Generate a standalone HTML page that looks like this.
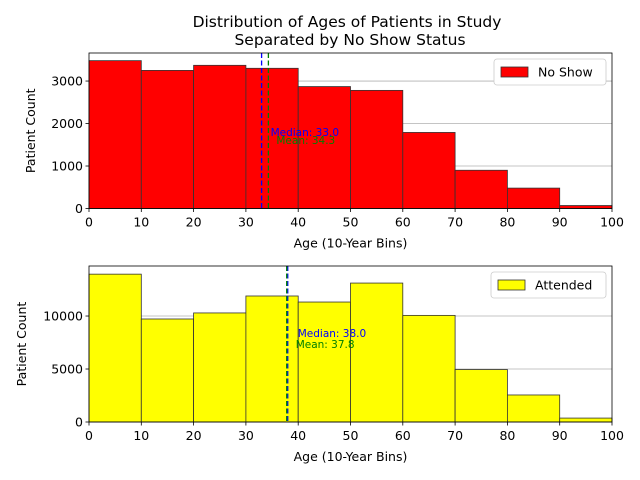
<!DOCTYPE html>
<html><head><meta charset="utf-8"><style>
body{margin:0;background:#fff}
svg{display:block;font-family:"DejaVu Sans","Liberation Sans",sans-serif}
</style></head><body>
<svg id="c" width="640" height="480" xmlns="http://www.w3.org/2000/svg">
<text x="347" y="27" font-size="15.5" text-anchor="middle">Distribution of Ages of Patients in Study</text>
<text x="350" y="45" font-size="15.5" text-anchor="middle">Separated by No Show Status</text>
</svg>
<script>
const binEdges=[0,10,20,30,40,50,60,70,80,90,100];
const noShowCounts=[3480,3250,3370,3300,2870,2780,1790,900,480,70];
const attendedCounts=[13950,9720,10290,11890,11320,13110,10060,4950,2550,370];
const noShowTicks=[0,1000,2000,3000];
const attendedTicks=[0,5000,10000];
const xTicks=[0,10,20,30,40,50,60,70,80,90,100];
const noShowStats={median:33.0,mean:34.3};
const attendedStats={median:38.0,mean:37.8};
const svg=document.getElementById('c');
const NS='http://www.w3.org/2000/svg';
function mk(t,a,p){const e=document.createElementNS(NS,t);for(const k in a)e.setAttribute(k,a[k]);(p||svg).appendChild(e);return e;}
function panel(o){
  const g=mk('g',{});
  
  
  const L=89,R=612,T=o.top,B=o.bottom;
  const xs=v=>L+(v-0)/(100-0)*(R-L);
  const ys=v=>B-v/o.ymax*(B-T);
  o.ticks.forEach(t=>{
    if(t>0){const gl=mk('line',{x1:L,x2:R,y1:ys(t),y2:ys(t),stroke:'#b0b0b0','stroke-width':0.8},g);
    }
    mk('line',{x1:L-3.5,x2:L,y1:ys(t),y2:ys(t),stroke:'#000','stroke-width':0.8},g);
    const tx=mk('text',{x:L-6,y:ys(t)+4.5,'font-size':12.5,'text-anchor':'end'},g);tx.textContent=t;
    
  });
  o.counts.forEach((c,i)=>{
    const r=mk('rect',{x:xs(binEdges[i]),y:ys(c),width:xs(binEdges[i+1])-xs(binEdges[i]),height:ys(0)-ys(c),fill:o.color,stroke:'#333','stroke-width':0.8},g);
    
    
  });
  const med=mk('line',{x1:xs(o.stats.median),x2:xs(o.stats.median),y1:T,y2:B,stroke:'blue','stroke-width':1.3,'stroke-dasharray':'5,2.5'},g);
  
  const mean=mk('line',{x1:xs(o.stats.mean),x2:xs(o.stats.mean),y1:T,y2:B,stroke:'green','stroke-width':1.3,'stroke-dasharray':'5,2.5'},g);
  
  const mt=mk('text',{x:xs(o.stats.median)+o.tdx,y:o.ty,'font-size':10.5,fill:'blue'},g);mt.textContent='Median: '+o.stats.median.toFixed(1);
  
  const nt=mk('text',{x:xs(o.stats.mean)+o.tdx2,y:o.ty+o.gap,'font-size':10.5,fill:'green'},g);nt.textContent='Mean: '+o.stats.mean.toFixed(1);
  
  mk('rect',{x:L,y:T,width:R-L,height:B-T,fill:'none',stroke:'#000','stroke-width':0.8},g);
  xTicks.forEach(t=>{
    mk('line',{x1:xs(t),x2:xs(t),y1:B,y2:B+3.5,stroke:'#000','stroke-width':0.8},g);
    const tx=mk('text',{x:xs(t),y:B+18,'font-size':12.5,'text-anchor':'middle'},g);tx.textContent=t;
    
  });
  const xl=mk('text',{x:(L+R)/2,y:B+39,'font-size':12.5,'text-anchor':'middle'},g);xl.textContent='Age (10-Year Bins)';
  
  const yl=mk('text',{x:0,y:0,'font-size':12.5,'text-anchor':'middle',transform:`translate(${o.ylx},${(T+B)/2}) rotate(-90)`},g);yl.textContent='Patient Count';
  
  const lg=mk('g',{},g);
  
  mk('rect',{x:o.lgx,y:T+6,width:R-6-o.lgx,height:26,rx:3,fill:'#fff',stroke:'#ccc','stroke-width':0.8},lg);
  mk('rect',{x:o.lgx+7,y:T+14,width:27,height:10,fill:o.color,stroke:'#333','stroke-width':0.8},lg);
  const lt=mk('text',{x:o.lgx+44,y:T+23.5,'font-size':12.5},lg);lt.textContent=o.label;
  
}
panel({name:'no-show-panel',top:53,bottom:208.5,ymax:3660,counts:noShowCounts,ticks:noShowTicks,stats:noShowStats,color:'red',label:'No Show',tdx:9,tdx2:8,ty:136,gap:8,ylx:35,lgx:494});
panel({name:'attended-panel',top:266,bottom:422,ymax:14720,counts:attendedCounts,ticks:attendedTicks,stats:attendedStats,color:'yellow',label:'Attended',tdx:10,tdx2:9,ty:337,gap:11,ylx:26,lgx:491});
</script>
</body></html>
